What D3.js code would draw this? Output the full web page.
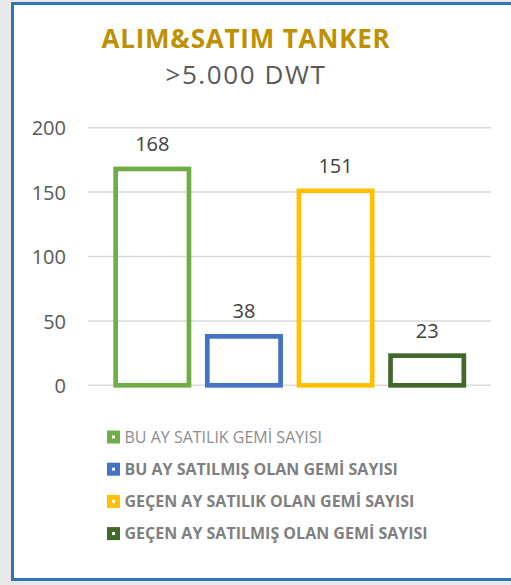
<!DOCTYPE html>
<html>
<head>
<meta charset="utf-8">
<script src="https://cdn.jsdelivr.net/npm/d3@7"></script>
<style>
html,body{margin:0;padding:0;background:#e8e8e8;}
svg{display:block;}
</style>
</head>
<body>
<svg id="chart" width="511" height="585"></svg>
<script>
const categories = ["BU AY SATILIK GEMİ SAYISI","BU AY SATILMIŞ OLAN GEMİ SAYISI","GEÇEN AY SATILIK OLAN GEMİ SAYISI","GEÇEN AY SATILMIŞ OLAN GEMİ SAYISI"];
const values = [168, 38, 151, 23];
const colors = ["#70ad47","#4472c4","#ffc000","#43682b"];
const legendBold = [false, true, true, true];
const yTicks = [0, 50, 100, 150, 200];
const title = "ALIM&SATIM TANKER";
const subtitle = ">5.000 DWT";

const svg = d3.select("#chart");
const font = "'Open Sans', sans-serif";

// frame
svg.append("rect").attr("x",0).attr("y",0).attr("width",511).attr("height",585).attr("fill","#e8e8e8");
svg.append("rect").attr("x",12.5).attr("y",3.5).attr("width",500).attr("height",576)
  .attr("fill","#ffffff").attr("stroke","#2e75b6").attr("stroke-width",3);

// titles
svg.append("text").attr("x",246).attr("y",47.5).attr("text-anchor","middle")
  .attr("font-family",font).attr("font-weight","bold").attr("font-size",26)
  .attr("fill","#bf9000").attr("letter-spacing",0.8).text(title);
svg.append("text").attr("x",246).attr("y",84).attr("text-anchor","middle")
  .attr("font-family",font).attr("font-size",26)
  .attr("fill","#595959").attr("letter-spacing",1.6).text(subtitle);

// scales
const y = d3.scaleLinear().domain([0,200]).range([385.3,127.7]);
const x = d3.scaleBand().domain(categories).range([106.5,473]).paddingInner(0.2).paddingOuter(0.1);

// grid
svg.append("g").selectAll("line").data(yTicks).join("line")
  .attr("x1",88).attr("x2",491)
  .attr("y1",d=>y(d)).attr("y2",d=>y(d))
  .attr("stroke","#d9d9d9").attr("stroke-width",1.5);

// y axis labels
const yAxis = d3.axisLeft(y).tickValues(yTicks).tickSize(0).tickPadding(0);
const ga = svg.append("g").attr("transform","translate(66,0)").call(yAxis);
ga.select(".domain").remove();
ga.selectAll("text").attr("font-family",font).attr("font-size",20).attr("fill","#595959").attr("dy","0.36em");

// bars
const sw = 4.7;
svg.append("g").selectAll("rect").data(values).join("rect")
  .attr("x",(d,i)=>x(categories[i]))
  .attr("y",d=>y(d))
  .attr("width",x.bandwidth())
  .attr("height",d=>y(0)-y(d))
  .attr("fill","none")
  .attr("stroke",(d,i)=>colors[i])
  .attr("stroke-width",sw);

// data labels
svg.append("g").selectAll("text").data(values).join("text")
  .attr("x",(d,i)=>x(categories[i])+x.bandwidth()/2)
  .attr("y",d=>y(d)-18)
  .attr("text-anchor","middle")
  .attr("font-family",font).attr("font-size",20).attr("fill","#404040")
  .text(d=>d);

// legend
const lg = svg.append("g");
categories.forEach((c,i)=>{
  const cy = 437 + i*32.2;
  lg.append("rect").attr("x",109.5).attr("y",cy-4).attr("width",8).attr("height",8)
    .attr("fill","#ffffff").attr("stroke",colors[i]).attr("stroke-width",5);
  lg.append("text").attr("x",124.5).attr("y",cy+5.5)
    .attr("font-family",font).attr("font-size",16)
    .attr("font-weight",legendBold[i]?"bold":"normal")
    .attr("fill",legendBold[i]?"#7f7f7f":"#8c8c8c")
    .text(c);
});
</script>
</body>
</html>
